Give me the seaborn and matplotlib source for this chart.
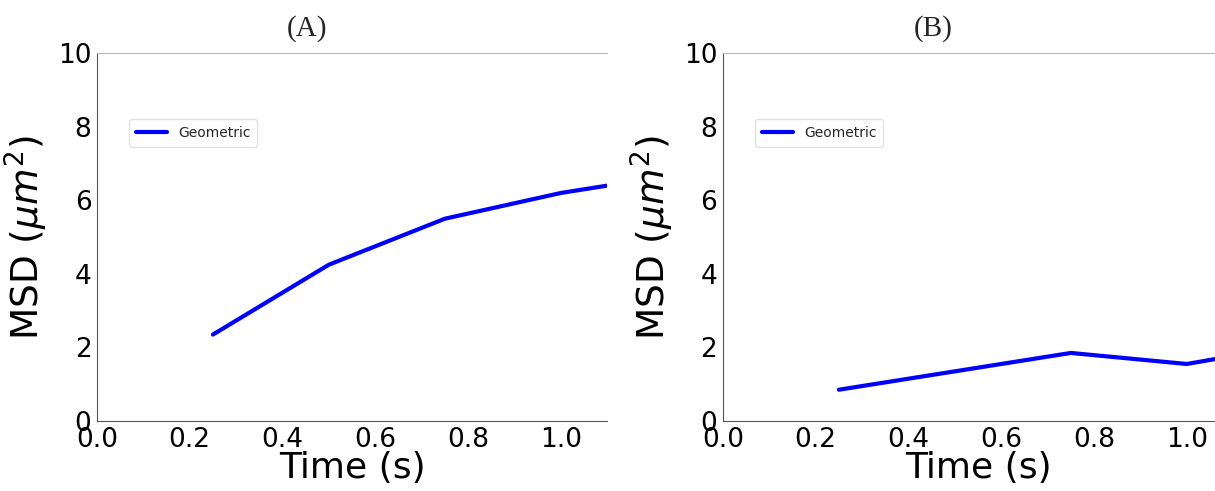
import matplotlib

matplotlib.use('Agg')
import matplotlib.pyplot as plt
import seaborn as sns
import pandas as pd

sns.set_style("white")

# time lags (s) and MSD values (um^2)
time_a = [0.25, 0.50, 0.75, 1.00, 1.25]
msd_a = [2.35, 4.25, 5.50, 6.20, 6.70]
time_b = [0.25, 0.50, 0.75, 1.00, 1.25]
msd_b = [0.85, 1.35, 1.85, 1.55, 2.10]
panel_titles = ["(A)", "(B)"]
series_name = "Geometric"

fig = plt.figure(figsize=(12.15, 4.91), dpi=100)
positions = [[0.0798, 0.1426, 0.42, 0.749], [0.595, 0.1426, 0.42, 0.749]]

for pos, t, m, title in zip(positions, [time_a, time_b], [msd_a, msd_b], panel_titles):
    ax = fig.add_axes(pos)
    df = pd.DataFrame({"Time": t, "MSD": m, "kind": series_name})
    sns.lineplot(data=df, x="Time", y="MSD", hue="kind", palette=["#0000ff"],
                 linewidth=3, ax=ax)
    ax.set_xlim(0, 1.1)
    ax.set_ylim(0, 10)
    ax.set_xticks([0.0, 0.2, 0.4, 0.6, 0.8, 1.0])
    ax.set_yticks([0, 2, 4, 6, 8, 10])
    ax.tick_params(labelsize=19, length=3, pad=1, colors="black")
    ax.set_xlabel("Time (s)", fontsize=26, labelpad=-1, color="black")
    ax.set_ylabel(r"MSD ($\mu m^2$)", fontsize=27, labelpad=6, color="black")
    ax.spines["left"].set_color("#555555")
    ax.spines["bottom"].set_color("#555555")
    ax.spines["top"].set_color("#bbbbbb")
    ax.spines["right"].set_visible(False)
    ax.text(210 / 510, 1.068, title, transform=ax.transAxes, ha="center", va="center",
            fontsize=21, family="Liberation Serif")
    leg = ax.legend(loc="upper left", bbox_to_anchor=(0.05, 0.84), fontsize=10,
                    frameon=True, handlelength=2.2, borderpad=0.5)
    leg.get_frame().set_edgecolor("#dddddd")

fig.savefig("out.png", dpi=100)
